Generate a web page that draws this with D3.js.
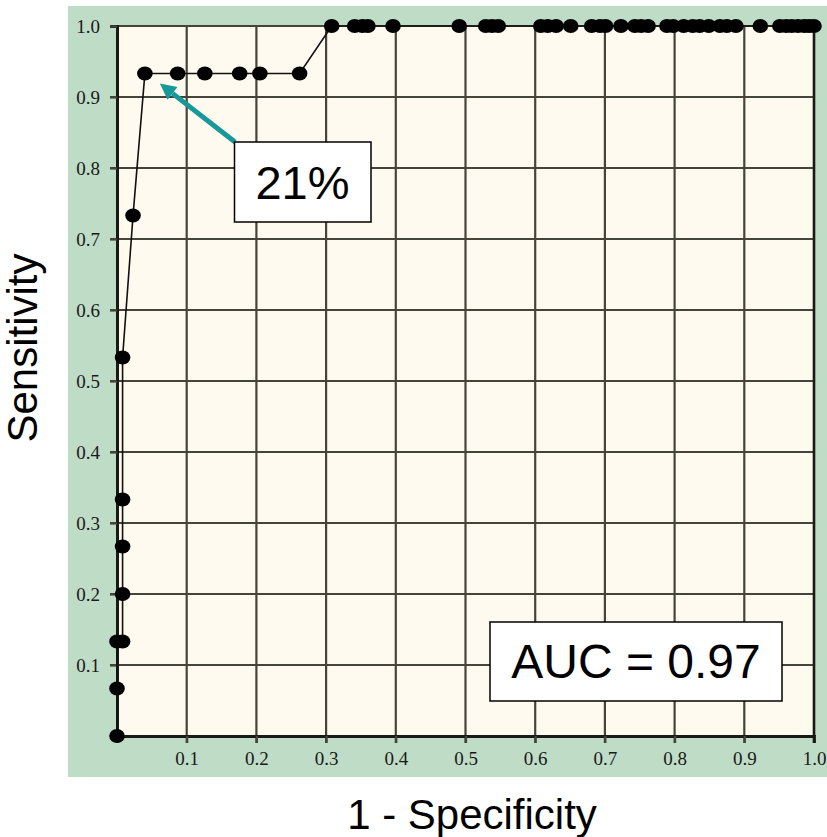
<!DOCTYPE html>
<html><head><meta charset="utf-8">
<script src="https://cdn.jsdelivr.net/npm/d3@7"></script>
<style>html,body{margin:0;padding:0;background:#fff;}svg{display:block;}</style>
</head><body>
<svg id="c" width="827" height="837"></svg>
<script>
// ---- data ----
const fpr = [0,0,0,0.008,0.008,0.008,0.008,0.008,0.023,
  0.040,0.087,0.126,0.176,0.205,0.262,
  0.308,0.341,0.352,0.360,0.396,0.491,0.529,0.538,0.547,0.608,0.618,0.630,0.651,
  0.681,0.693,0.701,0.723,0.743,0.752,0.762,0.789,0.798,0.813,0.826,0.836,0.849,
  0.865,0.875,0.888,0.923,0.951,0.960,0.968,0.977,0.986,0.993,1.0];
const tpr = [0,0.067,0.133,0.133,0.2,0.267,0.333,0.533,0.733,
  0.933,0.933,0.933,0.933,0.933,0.933,
  1,1,1,1,1,1,1,1,1,1,1,1,1,1,1,1,1,1,1,1,1,1,1,1,1,1,1,1,1,1,1,1,1,1,1,1,1];
const tickValues = [0.1,0.2,0.3,0.4,0.5,0.6,0.7,0.8,0.9,1.0];
const tickLabels = ["0.1","0.2","0.3","0.4","0.5","0.6","0.7","0.8","0.9","1.0"];
const xTitle = "1 - Specificity";
const yTitle = "Sensitivity";
const aucText = "AUC = 0.97";
const noteText = "21%";
const notePointIndex = 9;

const svg = d3.select("#c");
const x = d3.scaleLinear().domain([0,1]).range([117,814]);
const y = d3.scaleLinear().domain([0,1]).range([736,26]);

// backgrounds
svg.append("rect").attr("x",68).attr("y",6).attr("width",759).attr("height",771).attr("fill","#bfdcc6");
svg.append("rect").attr("x",x(0)).attr("y",y(1)).attr("width",x(1)-x(0)).attr("height",y(0)-y(1)).attr("fill","#fffaef");

// grid
const grid = svg.append("g").attr("stroke","#44443a").attr("stroke-width",2.2);
tickValues.forEach(v=>{
  grid.append("line").attr("x1",x(v)).attr("x2",x(v)).attr("y1",y(1)).attr("y2",y(0)+7);
  grid.append("line").attr("x1",x(0)-7).attr("x2",x(1)).attr("y1",y(v)).attr("y2",y(v));
});

// axes
const xAxis = d3.axisBottom(x).tickValues(tickValues).tickFormat((d,i)=>tickLabels[i]).tickSize(7).tickPadding(9);
const yAxis = d3.axisLeft(y).tickValues(tickValues).tickFormat((d,i)=>tickLabels[i]).tickSize(7).tickPadding(10);
const gx = svg.append("g").attr("transform",`translate(0,${y(0)})`).call(xAxis);
const gy = svg.append("g").attr("transform",`translate(${x(0)},0)`).call(yAxis);
[gx,gy].forEach(g=>{
  g.select(".domain").attr("stroke","#1a1a14").attr("stroke-width",3);
  g.selectAll(".tick line").attr("stroke","#44443a").attr("stroke-width",2.2);
  g.selectAll(".tick text").attr("fill","#1a1a1a").style("font-family","'Liberation Serif','DejaVu Serif',serif").style("font-size","19px");
});
// right frame
svg.append("line").attr("x1",x(1)).attr("x2",x(1)).attr("y1",y(1)).attr("y2",y(0)+7).attr("stroke","#1a1a14").attr("stroke-width",2.5);

// ROC line and markers
const pts = fpr.map((f,i)=>[f,tpr[i]]);
svg.append("path").datum(pts)
  .attr("d",d3.line().x(d=>x(d[0])).y(d=>y(d[1])))
  .attr("fill","none").attr("stroke","#111").attr("stroke-width",1.6);
svg.append("g").selectAll("ellipse").data(pts).join("ellipse")
  .attr("cx",d=>x(d[0])).attr("cy",d=>y(d[1])).attr("rx",7.8).attr("ry",7).attr("fill","#000");

// annotation arrow
const px = x(fpr[notePointIndex]), py = y(tpr[notePointIndex]);
const tip = [px+15, py+10];
const tail = [235, 142];
const ang = Math.atan2(tail[1]-tip[1], tail[0]-tip[0]);
const headL = 16, headW = 8;
const base = [tip[0]+headL*Math.cos(ang), tip[1]+headL*Math.sin(ang)];
svg.append("line").attr("x1",tail[0]).attr("y1",tail[1]).attr("x2",base[0]).attr("y2",base[1])
  .attr("stroke","#17999a").attr("stroke-width",5);
svg.append("polygon").attr("points",[
  tip,
  [base[0]+headW*Math.sin(ang), base[1]-headW*Math.cos(ang)],
  [base[0]-headW*Math.sin(ang), base[1]+headW*Math.cos(ang)]
].map(p=>p.join(",")).join(" ")).attr("fill","#17999a");

// note box
svg.append("rect").attr("x",234.5).attr("y",142).attr("width",136.5).attr("height",80)
  .attr("fill","#fff").attr("stroke","#000").attr("stroke-width",1.5);
svg.append("text").attr("x",302.5).attr("y",199).attr("text-anchor","middle")
  .style("font-family","'Liberation Sans',Arial,sans-serif").style("font-size","47px").attr("fill","#000").text(noteText);

// AUC box
svg.append("rect").attr("x",490).attr("y",622).attr("width",292).attr("height",79)
  .attr("fill","#fff").attr("stroke","#000").attr("stroke-width",1.5);
svg.append("text").attr("x",636).attr("y",678).attr("text-anchor","middle")
  .style("font-family","'Liberation Sans',Arial,sans-serif").style("font-size","48px").attr("fill","#000").text(aucText);

// titles
svg.append("text").attr("x",472).attr("y",829).attr("text-anchor","middle")
  .style("font-family","'Liberation Sans',Arial,sans-serif").style("font-size","42px").attr("fill","#000").text(xTitle);
svg.append("text").attr("transform","translate(37,348) rotate(-90)").attr("text-anchor","middle")
  .style("font-family","'Liberation Sans',Arial,sans-serif").style("font-size","42px").attr("fill","#000").text(yTitle);
</script>
</body></html>
